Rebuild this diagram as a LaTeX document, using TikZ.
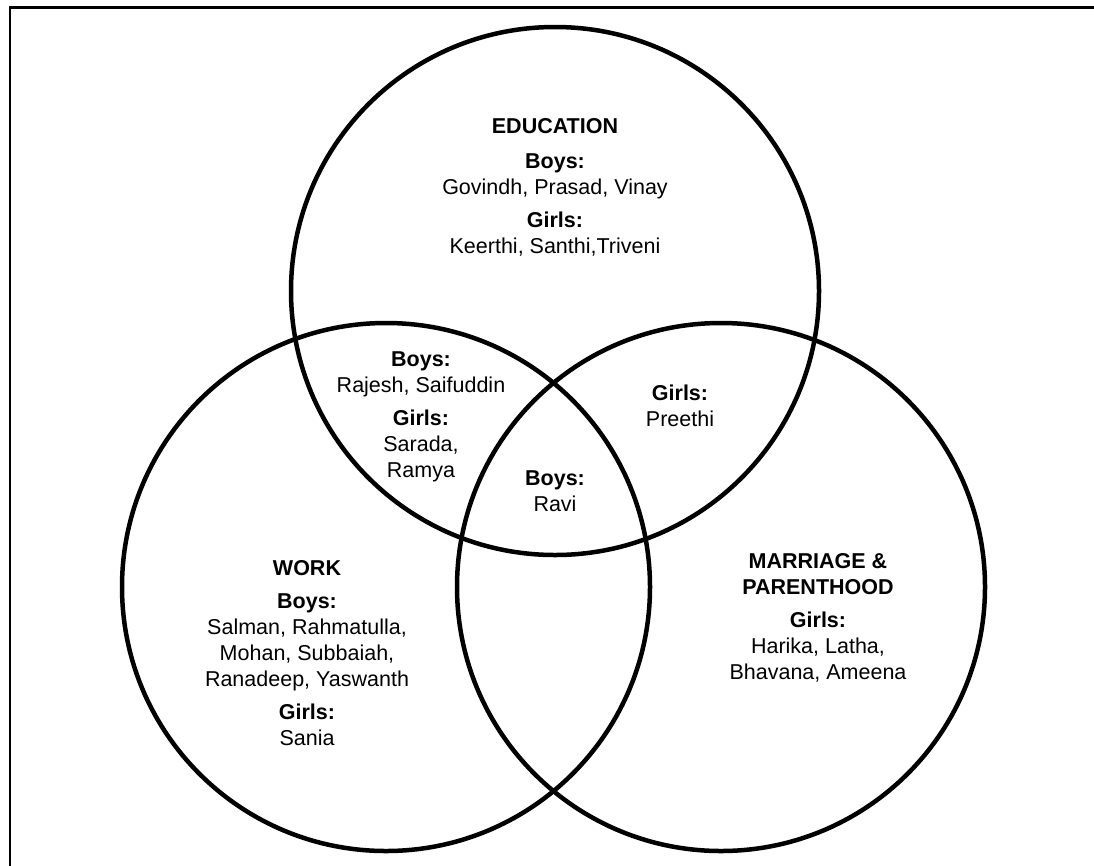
\documentclass[tikz,border=0pt]{standalone}
\usepackage{fontspec}
\setmainfont{Liberation Sans}
\begin{document}
\begin{tikzpicture}[x=1pt,y=-1pt,
    venn/.style={circle, draw, line width=4.5pt, minimum size=528pt, inner sep=0pt},
    lbl/.style={align=center, inner sep=0pt, font={\fontsize{21.5}{26}\selectfont}}]
  \useasboundingbox (0,0) rectangle (1094,865);
  % frame
  \coordinate (fb) at (10,866);
  \coordinate (ft) at (10,7.5);
  \coordinate (fr) at (1095,7.5);
  \draw[line width=2.2pt] (fb) -- (ft) -- (fr);
  % circles
  \foreach \n/\x/\y in {edu/555/291, work/386/587, marr/721/587} {
    \node[venn] (\n) at (\x,\y) {};
  }
  % set labels
  \node[lbl] (edutxt) at (555,187) {\textbf{EDUCATION}\\[9pt] \textbf{Boys:}\\ Govindh, Prasad, Vinay\\[7pt] \textbf{Girls:}\\ Keerthi, Santhi,Triveni};
  \node[lbl] (worktxt) at (307,653) {\textbf{WORK}\\[7pt] \textbf{Boys:}\\ Salman, Rahmatulla,\\ Mohan, Subbaiah,\\ Ranadeep, Yaswanth\\[7pt] \textbf{Girls:}\\ Sania};
  \node[lbl] (marrtxt) at (818,617.5) {\textbf{MARRIAGE \&}\\ \textbf{PARENTHOOD}\\[7pt] \textbf{Girls:}\\ Harika, Latha,\\ Bhavana, Ameena};
  % overlaps
  \node[lbl] (eduwork) at (421,416.5) {\textbf{Boys:}\\ Rajesh, Saifuddin\\[7pt] \textbf{Girls:}\\ Sarada,\\ Ramya};
  \node[lbl] (edumarr) at (680,406) {\textbf{Girls:}\\ Preethi};
  \node[lbl] (allthree) at (555,491) {\textbf{Boys:}\\ Ravi};
\end{tikzpicture}
\end{document}
